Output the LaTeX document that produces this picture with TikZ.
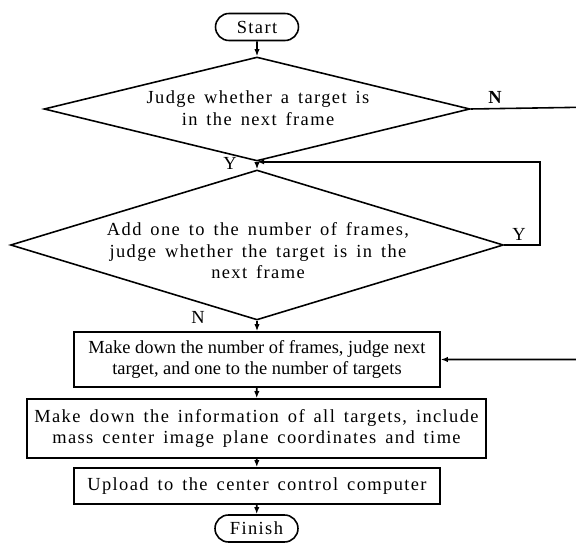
\documentclass[tikz,border=0pt]{standalone}
\usepackage{fontspec}
\setmainfont{Liberation Serif}
\newfontfamily\spacedfont[LetterSpace=7.5,WordSpace=1.5]{Liberation Serif}
\usetikzlibrary{shapes.geometric,shapes.misc,arrows.meta}

\begin{document}
\begin{tikzpicture}[x=0.02cm,y=-0.02cm,line width=0.9pt,
	terminal/.style={draw,rounded rectangle,minimum width=1.66cm,minimum height=0.54cm,inner sep=0pt,font=\spacedfont\fontsize{10.5}{12}\selectfont},
	decision/.style={draw,diamond,inner sep=0pt},
	process/.style={draw,rectangle,inner sep=0pt,minimum width=7.32cm},
	txt/.style={align=center,font=\spacedfont\fontsize{10.5}{12.2}\selectfont},
	yn/.style={font=\fontsize{10.5}{12}\selectfont,inner sep=0pt},
	arr/.style={-{Latex[length=4pt,width=3pt]}}]
	\useasboundingbox (0,0) rectangle (576,543);

	% terminals and decisions
	\node[terminal] (start) at (257,27) {Start};
	\node[decision,minimum width=8.52cm,minimum height=2.08cm] (d1) at (257,109) {};
	\node[txt] (d1text) at (258,108) {Judge whether a target is\\in the next frame};
	\node[decision,minimum width=9.86cm,minimum height=3cm] (d2) at (257,245) {};
	\node[txt] (d2text) at (258,251) {Add one to the number of frames,\\judge whether the target is in the\\next frame};

	% processes
	\node[process,minimum height=1.1cm,align=center,font=\fontsize{10.5}{12}\selectfont] (box1) at (257,359.5) {Make down the number of frames, judge next\\target, and one to the number of targets};
	\node[process,minimum width=9.18cm,minimum height=1.18cm,txt] (box2) at (256.5,428.5) {Make down the information of all targets, include\\mass center image plane coordinates and time};
	\node[process,minimum height=0.72cm,txt] (box3) at (257,486) {Upload to the center control computer};
	\node[terminal] (finish) at (256.5,528.5) {Finish};

	\coordinate (edge) at (600,107);

	% connectors
	\draw[arr] (start) -- (d1.north);
	\draw[arr] (d1.south) -- (d2.north);
	\draw[arr] (d2.east) -- ++(36,0) |- (d1.south);
	\draw[arr] (d1.east) -- (edge) |- (box1.east);
	\draw[arr] (d2.south) -- (box1.north);
	\draw[arr] (box1) -- (box2);
	\draw[arr] (box2) -- (box3);
	\draw[arr] (box3) -- (finish);

	% labels
	\node[yn,font=\bfseries\fontsize{10.5}{12}\selectfont] (n1) at (495,97) {N};
	\node[yn] (y1) at (230,163) {Y};
	\node[yn] (y2) at (519,234) {Y};
	\node[yn] (n2) at (198,317) {N};
\end{tikzpicture}
\end{document}
